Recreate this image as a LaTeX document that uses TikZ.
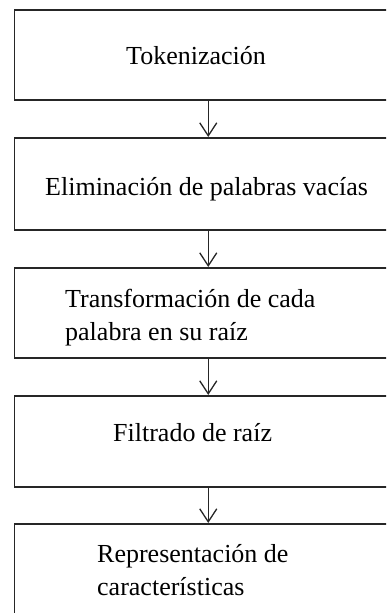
\documentclass[tikz,border=0pt]{standalone}
\usepackage{fontspec}
\setmainfont{Liberation Serif}
\usetikzlibrary{arrows.meta}
\begin{document}
\begin{tikzpicture}[x=1pt,y=-1pt,
  stepbox/.style={draw=black!85, line width=1.5pt, rectangle, inner sep=0pt,
    minimum width=388pt, anchor=north west},
  label/.style={inner sep=0pt, anchor=base west, align=left,
    font=\fontsize{26}{33}\selectfont},
  flow/.style={draw=black!85, line width=1.3pt,
    -{Straight Barb[length=13pt,width=17pt,line width=1.3pt]}}]
\useasboundingbox (0,0) rectangle (386,613);
\clip (0,0) rectangle (386,613);
\node[stepbox, minimum height=90pt] (b1) at (13.5,9) {};
\node[stepbox, minimum height=92pt] (b2) at (13.5,137) {};
\node[stepbox, minimum height=90pt] (b3) at (13.5,267) {};
\node[stepbox, minimum height=91pt] (b4) at (13.5,395) {};
\node[stepbox, minimum height=110pt] (b5) at (13.5,523) {};
\node[label] (t1) at (126,64) {Tokenización};
\node[label] (t2) at (45,195) {Eliminación de palabras vacías};
\node[label] (t3) at (65,340) {Transformación de cada\\palabra en su raíz};
\node[label] (t4) at (113,441) {Filtrado de raíz};
\node[label] (t5) at (97,595) {Representación de\\características};
\draw[flow] (b1.south) -- (b2.north);
\draw[flow] (b2.south) -- (b3.north);
\draw[flow] (b3.south) -- (b4.north);
\draw[flow] (b4.south) -- (b5.north);
\end{tikzpicture}
\end{document}
